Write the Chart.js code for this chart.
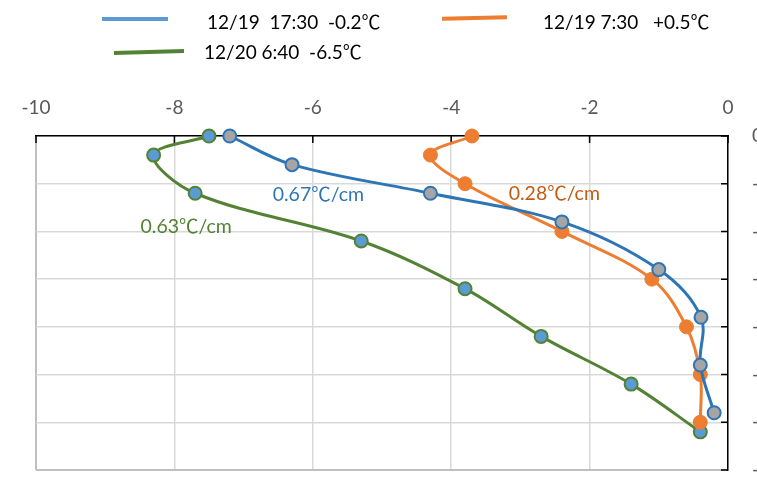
<!DOCTYPE html>
<html>
<head>
<meta charset="utf-8">
<script src="https://cdn.jsdelivr.net/npm/chart.js@4.4.1/dist/chart.umd.min.js"></script>
<style>
  html, body { margin: 0; padding: 0; background: #fff; overflow: hidden; }
  #wrap { position: relative; width: 757px; height: 483px; }
  #chart { position: absolute; left: 0; top: 0; }
  .leg-line { position: absolute; height: 4px; }
  .leg-text { position: absolute; font-family: Lato, "Noto Sans CJK JP", sans-serif; font-size: 19px; color: #000; white-space: pre; line-height: 22px; }
</style>
</head>
<body>
<div id="wrap">
  <canvas id="chart" width="757" height="483"></canvas>
  <div class="leg-line" style="left:102px;top:17px;width:66px;background:#5B9BD5"></div>
  <div class="leg-text" style="left:207px;top:11px">12/19  17:30  -0.2℃</div>
  <div class="leg-line" style="left:442px;top:16px;width:65px;background:#ED7D31;transform:rotate(-1.5deg)"></div>
  <div class="leg-text" style="left:543px;top:11px">12/19 7:30   +0.5℃</div>
  <div class="leg-line" style="left:114px;top:50px;width:70px;background:#548235;transform:rotate(-1.5deg)"></div>
  <div class="leg-text" style="left:204px;top:41px">12/20 6:40  -6.5℃</div>
</div>
<script>
// temperature (°C) vs depth (cm)
const tempBlue = [-7.2, -6.3, -4.3, -2.4, -1.0, -0.39, -0.4, -0.2];
const depthBlue = [0, -1.2, -2.4, -3.6, -5.6, -7.6, -9.6, -11.6];

const tempOrange = [-3.7, -4.3, -3.8, -2.4, -1.1, -0.6, -0.4, -0.4];
const depthOrange = [0, -0.8, -2, -4, -6, -8, -10, -12];

const tempGreen = [-7.5, -8.3, -7.7, -5.3, -3.8, -2.7, -1.4, -0.4];
const depthGreen = [0, -0.8, -2.4, -4.4, -6.4, -8.4, -10.4, -12.4];

const xTicks = [-10, -8, -6, -4, -2, 0];
const yTicks = [0, -2, -4, -6, -8, -10, -12, -14];

// gradient notes: [text, temp, depth, colour]
const notes = [
    ['0.67℃/cm', -5.92, -2.47, '#2E75B6'],
    ['0.28℃/cm', -2.51, -2.43, '#C55A11'],
    ['0.63℃/cm', -7.83, -3.82, '#548235']
];

function toPoints(xs, ys) {
    return xs.map((x, i) => ({ x: x, y: ys[i] }));
}

const FONT = 'Lato, "Noto Sans CJK JP", sans-serif';

// short tick marks drawn inside the plot, like the original
const innerTicks = {
    id: 'innerTicks',
    beforeDatasetsDraw(chart) {
        const { ctx, chartArea, scales } = chart;
        ctx.save();
        ctx.strokeStyle = '#000';
        ctx.lineWidth = 1.5;
        ctx.beginPath();
        xTicks.forEach(v => {
            const px = scales.x.getPixelForValue(v);
            ctx.moveTo(px, chartArea.top);
            ctx.lineTo(px, chartArea.top + 7);
        });
        yTicks.forEach(v => {
            const py = scales.y.getPixelForValue(v);
            ctx.moveTo(chartArea.right - 7, py);
            ctx.lineTo(chartArea.right, py);
        });
        ctx.stroke();
        ctx.restore();
    },
    afterDatasetsDraw(chart) {
        const { ctx, scales } = chart;
        ctx.save();
        ctx.font = '19.5px ' + FONT;
        ctx.textAlign = 'center';
        ctx.textBaseline = 'middle';
        notes.forEach(n => {
            ctx.fillStyle = n[3];
            ctx.fillText(n[0], scales.x.getPixelForValue(n[1]), scales.y.getPixelForValue(n[2]));
        });
        ctx.restore();
    }
};

new Chart(document.getElementById('chart').getContext('2d'), {
    type: 'scatter',
    data: {
        datasets: [
            {
                label: '12/19  17:30  -0.2℃',
                data: toPoints(tempBlue, depthBlue),
                showLine: true,
                tension: 0.35,
                clip: false,
                borderColor: '#2E75B6',
                borderWidth: 3,
                pointBackgroundColor: '#A5A5A5',
                pointBorderColor: '#2E75B6',
                pointBorderWidth: 2,
                pointRadius: 6.5,
                order: 0
            },
            {
                label: '12/19 7:30   +0.5℃',
                data: toPoints(tempOrange, depthOrange),
                showLine: true,
                tension: 0.35,
                clip: false,
                borderColor: '#ED7D31',
                borderWidth: 3,
                pointBackgroundColor: '#ED7D31',
                pointBorderColor: '#ED7D31',
                pointBorderWidth: 1,
                pointRadius: 7,
                order: 1
            },
            {
                label: '12/20 6:40  -6.5℃',
                data: toPoints(tempGreen, depthGreen),
                showLine: true,
                tension: 0.35,
                clip: false,
                borderColor: '#548235',
                borderWidth: 3,
                pointBackgroundColor: '#5B9BD5',
                pointBorderColor: '#548235',
                pointBorderWidth: 2,
                pointRadius: 6.5,
                order: 2
            }
        ]
    },
    options: {
        responsive: false,
        animation: false,
        layout: { padding: { left: 36, right: 0, top: 0, bottom: 13 } },
        scales: {
            x: {
                position: 'top',
                min: -10,
                max: 0,
                ticks: { stepSize: 2, color: '#595959', padding: 17, font: { family: FONT, size: 19 } },
                grid: {
                    color: c => c.tick && c.tick.value === -10 ? '#BFBFBF' : '#D9D9D9',
                    lineWidth: c => c.tick && c.tick.value === -10 ? 2 : 1.5,
                    drawTicks: false
                },
                border: { color: '#000', width: 1.5 },
                afterFit: s => { s.height = 136; }
            },
            y: {
                position: 'right',
                min: -14,
                max: 0,
                ticks: { stepSize: 2, color: '#595959', padding: 24, font: { family: FONT, size: 19 } },
                grid: {
                    color: c => c.tick && c.tick.value === -14 ? '#BFBFBF' : '#D9D9D9',
                    lineWidth: c => c.tick && c.tick.value === -14 ? 2 : 1.5,
                    drawTicks: false
                },
                border: { color: '#000', width: 1.5 },
                afterFit: s => { s.width = 29; s.paddingTop = 0; s.paddingBottom = 0; }
            }
        },
        plugins: {
            legend: { display: false },
            tooltip: { enabled: false }
        }
    },
    plugins: [innerTicks]
});
</script>
</body>
</html>
